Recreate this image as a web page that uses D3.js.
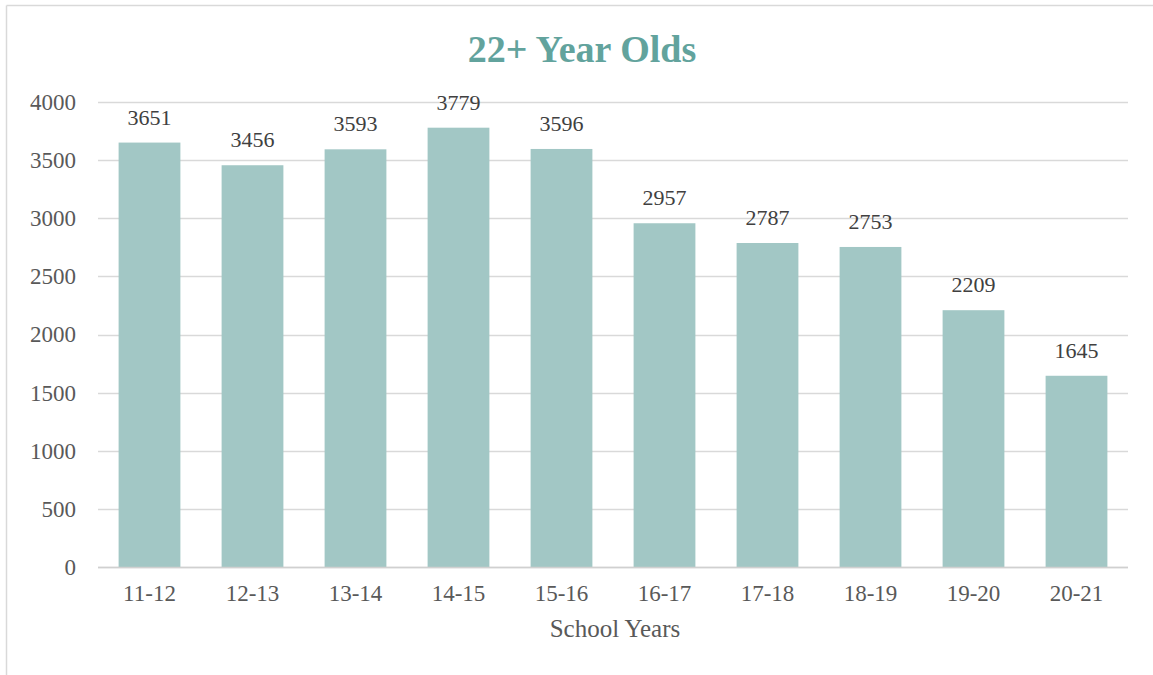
<!DOCTYPE html>
<html>
<head>
<meta charset="utf-8">
<script src="https://cdn.jsdelivr.net/npm/d3@7"></script>
<style>
  body { margin: 0; background: #fff; }
  .chart text { font-family: "Liberation Serif", "DejaVu Serif", serif; }
</style>
</head>
<body>
<div class="chart"></div>
<script>
var years = ["11-12", "12-13", "13-14", "14-15", "15-16", "16-17", "17-18", "18-19", "19-20", "20-21"]
var counts = [3651, 3456, 3593, 3779, 3596, 2957, 2787, 2753, 2209, 1645]
var yTicks = [0, 500, 1000, 1500, 2000, 2500, 3000, 3500, 4000]

var W = 1153, H = 675
var margin = { top: 102, right: 25, bottom: 108, left: 98 }
var width = W - margin.left - margin.right
var height = H - margin.top - margin.bottom

var root = d3.select(".chart").append("svg")
    .attr("width", W)
    .attr("height", H)

// outer frame (left + top only visible)
root.append("line").attr("x1", 6.5).attr("x2", 6.5).attr("y1", 5.5).attr("y2", H)
    .attr("stroke", "#d9d9d9").attr("stroke-width", 1.5)
root.append("line").attr("x1", 6.5).attr("x2", W).attr("y1", 5.5).attr("y2", 5.5)
    .attr("stroke", "#d9d9d9").attr("stroke-width", 1.5)

root.append("text")
    .attr("x", 582)
    .attr("y", 62)
    .attr("text-anchor", "middle")
    .style("font-size", "38px")
    .style("font-weight", "bold")
    .style("fill", "#62a39d")
    .text("22+ Year Olds")

var svg = root.append("g")
    .attr("transform", "translate(" + margin.left + "," + margin.top + ")")

var x = d3.scaleBand().domain(years).range([0, width]).paddingInner(0.4).paddingOuter(0.2)
var y = d3.scaleLinear().domain([0, 4000]).range([height, 0])

// gridlines
svg.append("g")
    .selectAll("line")
    .data(yTicks)
    .enter()
    .append("line")
    .attr("x1", 0)
    .attr("x2", width)
    .attr("y1", function(d) { return Math.round(y(d)) + 0.5 })
    .attr("y2", function(d) { return Math.round(y(d)) + 0.5 })
    .attr("stroke", "#d9d9d9")
    .attr("stroke-width", 1.5)

var yAxis = d3.axisLeft(y).tickValues(yTicks).tickFormat(d3.format("d")).tickSize(0).tickPadding(22)
svg.append("g")
    .attr("class", "y-axis")
    .call(yAxis)
    .call(function(g) { g.select(".domain").remove() })
    .selectAll("text")
    .style("font-size", "23px")
    .style("fill", "#595959")

svg.selectAll("rect.bar")
    .data(counts)
    .enter()
    .append("rect")
    .attr("class", "bar")
    .attr("x", function(d, i) { return x(years[i]) })
    .attr("width", x.bandwidth())
    .attr("y", function(d) { return y(d) })
    .attr("height", function(d) { return height - y(d) })
    .style("fill", "#a2c7c5")

// baseline
svg.append("line")
    .attr("x1", 0).attr("x2", width)
    .attr("y1", Math.round(y(0)) + 0.5).attr("y2", Math.round(y(0)) + 0.5)
    .attr("stroke", "#d0d0d0").attr("stroke-width", 1.5)

svg.selectAll("text.val")
    .data(counts)
    .enter()
    .append("text")
    .attr("class", "val")
    .attr("x", function(d, i) { return x(years[i]) + x.bandwidth() / 2 })
    .attr("y", function(d) { return y(d) - 18 })
    .attr("text-anchor", "middle")
    .style("font-size", "22px")
    .style("fill", "#404040")
    .text(function(d) { return d })

var xAxis = d3.axisBottom(x).tickSize(0).tickPadding(18)
svg.append("g")
    .attr("class", "x-axis")
    .attr("transform", "translate(0," + height + ")")
    .call(xAxis)
    .call(function(g) { g.select(".domain").remove() })
    .selectAll("text")
    .style("font-size", "23px")
    .style("fill", "#595959")

svg.append("text")
    .attr("x", width / 2 + 2)
    .attr("y", height + 70)
    .attr("text-anchor", "middle")
    .style("font-size", "25px")
    .style("fill", "#595959")
    .text("School Years")
</script>
</body>
</html>
